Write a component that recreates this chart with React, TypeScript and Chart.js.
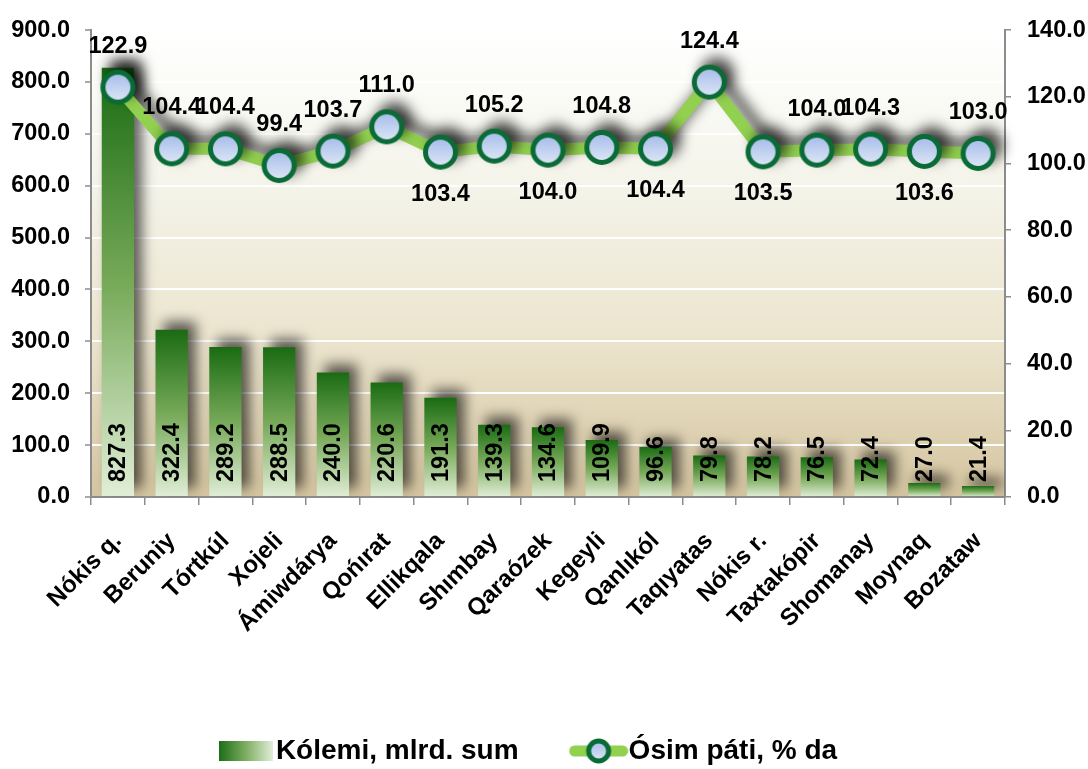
import React, { useEffect, useRef } from 'react';
import { Chart, registerables } from 'chart.js';

Chart.register(...registerables);

const categories = ['Nókis q.', 'Beruniy', 'Tórtkúl', 'Xojeli', 'Ámiwdárya', 'Qońırat', 'Ellikqala', 'Shımbay', 'Qaraózek', 'Kegeyli', 'Qanlıkól', 'Taqıyatas', 'Nókis r.', 'Taxtakópir', 'Shomanay', 'Moynaq', 'Bozataw'];
const volume = [827.3, 322.4, 289.2, 288.5, 240.0, 220.6, 191.3, 139.3, 134.6, 109.9, 96.6, 79.8, 78.2, 76.5, 72.4, 27.0, 21.4];
const growth = [122.9, 104.4, 104.4, 99.4, 103.7, 111.0, 103.4, 105.2, 104.0, 104.8, 104.4, 124.4, 103.5, 104.0, 104.3, 103.6, 103.0];
const leftTicksMax = 900;
const leftTicksStep = 100;
const rightTicksMax = 140;
const rightTicksStep = 20;
const volumeLabel = 'Kólemi, mlrd. sum';
const growthLabel = 'Ósim páti, % da';
// indices of growth labels drawn below their points (style, not data)
const growthLabelsBelow = [6, 8, 10, 12, 15];

const FONT = "'Liberation Sans', Arial, Helvetica, sans-serif";
const NUM_SIZE = 23.5;

function makePointImage(r: number, border: number) {
  const size = Math.ceil(2 * r + 2);
  const c = document.createElement('canvas');
  c.width = size;
  c.height = size;
  const g = c.getContext('2d')!;
  const cx = size / 2;
  const grad = g.createLinearGradient(0, cx - r, 0, cx + r);
  grad.addColorStop(0, '#9fb8e8');
  grad.addColorStop(1, '#e4ebf8');
  g.beginPath();
  g.arc(cx, cx, r - border / 2, 0, Math.PI * 2);
  g.fillStyle = grad;
  g.fill();
  g.lineWidth = border;
  g.strokeStyle = '#0a6b37';
  g.stroke();
  return c;
}

function makeBarLegendImage() {
  const c = document.createElement('canvas');
  c.width = 54;
  c.height = 20;
  const g = c.getContext('2d')!;
  const grad = g.createLinearGradient(0, 0, 54, 0);
  grad.addColorStop(0, '#1c6d17');
  grad.addColorStop(0.5, '#7eae62');
  grad.addColorStop(1, '#e2eed8');
  g.fillStyle = grad;
  g.fillRect(0, 0, 54, 20);
  return c;
}

function makeLineLegendImage() {
  const c = document.createElement('canvas');
  c.width = 60;
  c.height = 28;
  const g = c.getContext('2d')!;
  g.strokeStyle = '#92d050';
  g.lineWidth = 11;
  g.lineCap = 'round';
  g.beginPath();
  g.moveTo(6, 14);
  g.lineTo(54, 14);
  g.stroke();
  const r = 12.5;
  const grad = g.createLinearGradient(0, 14 - r, 0, 14 + r);
  grad.addColorStop(0, '#9fb8e8');
  grad.addColorStop(1, '#e4ebf8');
  g.beginPath();
  g.arc(30, 14, r - 2.5, 0, Math.PI * 2);
  g.fillStyle = grad;
  g.fill();
  g.lineWidth = 5;
  g.strokeStyle = '#0a6b37';
  g.stroke();
  return c;
}

const backgroundPlugin = {
  id: 'plotBackground',
  beforeDraw(chart: any) {
    const { ctx, chartArea } = chart;
    if (chart.legend) {
      chart.legend.left = 0;
      chart.legend.right = chart.width - 21;
    }
    if (!chartArea) return;
    const grad = ctx.createLinearGradient(0, chartArea.top, 0, chartArea.bottom);
    grad.addColorStop(0, '#ffffff');
    grad.addColorStop(0.3, '#f5f5ec');
    grad.addColorStop(0.65, '#ece5cf');
    grad.addColorStop(1, '#d5c5a0');
    ctx.save();
    ctx.fillStyle = grad;
    ctx.fillRect(chartArea.left, chartArea.top, chartArea.right - chartArea.left, chartArea.bottom - chartArea.top);
    ctx.restore();
  },
};

const shadowPlugin = {
  id: 'markShadow',
  beforeDatasetDraw(chart: any) {
    const c = chart.ctx;
    c.save();
    c.shadowColor = 'rgba(0,0,0,0.62)';
    c.shadowBlur = 13;
    c.shadowOffsetX = 8;
    c.shadowOffsetY = -8;
  },
  afterDatasetDraw(chart: any) {
    chart.ctx.restore();
  },
};

const labelPlugin = {
  id: 'valueLabels',
  afterDatasetsDraw(chart: any) {
    const { ctx } = chart;
    ctx.save();
    ctx.fillStyle = '#000';
    ctx.font = `bold ${NUM_SIZE}px ${FONT}`;
    const barMeta = chart.getDatasetMeta(0);
    const base = chart.scales.y.getPixelForValue(0);
    barMeta.data.forEach((el: any, i: number) => {
      ctx.save();
      ctx.translate(el.x, base - 15);
      ctx.rotate(-Math.PI / 2);
      ctx.textAlign = 'left';
      ctx.textBaseline = 'middle';
      ctx.fillText(volume[i].toFixed(1), 0, 1);
      ctx.restore();
    });
    const lineMeta = chart.getDatasetMeta(1);
    ctx.textAlign = 'center';
    ctx.textBaseline = 'middle';
    lineMeta.data.forEach((el: any, i: number) => {
      const below = growthLabelsBelow.includes(i);
      ctx.fillText(growth[i].toFixed(1), el.x, below ? el.y + 42 : el.y - 41);
    });
    ctx.restore();
  },
};

export default function App() {
  const ref = useRef<HTMLCanvasElement>(null);
  useEffect(() => {
    if (!ref.current) return;
    const pointImg = makePointImage(17.5, 5);
    const barLegend = makeBarLegendImage();
    const lineLegend = makeLineLegendImage();
    const barGradient = (c: any) => {
      const chart = c.chart;
      if (!chart.chartArea || c.type !== 'data') return '#5a9a40';
      const ys = chart.scales.y;
      const top = ys.getPixelForValue(c.raw);
      const bottom = ys.getPixelForValue(0);
      const g = chart.ctx.createLinearGradient(0, top, 0, bottom);
      g.addColorStop(0, '#1a6b13');
      g.addColorStop(0.5, '#76a958');
      g.addColorStop(1, '#e1eed7');
      return g;
    };
    const chart = new Chart(ref.current, {
      data: {
        labels: categories,
        datasets: [
          {
            type: 'bar',
            label: volumeLabel,
            data: volume,
            yAxisID: 'y',
            backgroundColor: barGradient,
            barPercentage: 0.6,
            categoryPercentage: 1,
            order: 1,
          } as any,
          {
            type: 'line',
            label: growthLabel,
            data: growth,
            yAxisID: 'y1',
            borderColor: '#92d050',
            borderWidth: 12,
            borderJoinStyle: 'round',
            borderCapStyle: 'round',
            pointStyle: pointImg,
            pointRadius: 17,
            tension: 0,
            order: 0,
          } as any,
        ],
      },
      options: {
        responsive: false,
        animation: false,
        events: [],
        layout: { padding: { top: 27, left: 0, right: 0, bottom: -6 } },
        font: { family: FONT, weight: 'bold' },
        plugins: {
          tooltip: { enabled: false },
          legend: {
            position: 'bottom',
            labels: {
              usePointStyle: true,
              pointStyleWidth: 32,
              padding: 64,
              color: '#000',
              font: { family: FONT, size: 28, weight: 'bold' },
              generateLabels: () => [
                { text: volumeLabel, pointStyle: barLegend, datasetIndex: 0, hidden: false, lineWidth: 0, fillStyle: 'rgba(0,0,0,0)', strokeStyle: 'rgba(0,0,0,0)' } as any,
                { text: growthLabel, pointStyle: lineLegend, datasetIndex: 1, hidden: false, lineWidth: 0, fillStyle: 'rgba(0,0,0,0)', strokeStyle: 'rgba(0,0,0,0)' } as any,
              ],
            },
          },
        },
        scales: {
          x: {
            offset: true,
            grid: { display: true, drawOnChartArea: false, offset: true, color: '#8c8c8c', tickLength: 8, lineWidth: 1.5 },
            border: { display: true, color: '#8c8c8c', width: 2 },
            ticks: {
              maxRotation: 45,
              minRotation: 45,
              autoSkip: false,
              padding: 22,
              color: '#000',
              font: { family: FONT, size: 24, weight: 'bold' },
            },
            afterFit: (scale: any) => {
              const ch = scale.chart;
              const lh = ch.legend ? ch.legend.height : 0;
              scale.height = ch.height + 6 - lh - 497;
            },
          } as any,
          y: {
            position: 'left',
            min: 0,
            max: leftTicksMax,
            ticks: {
              stepSize: leftTicksStep,
              padding: 15,
              color: '#000',
              font: { family: FONT, size: NUM_SIZE, weight: 'bold' },
              callback: (v: any) => Number(v).toFixed(1),
            },
            grid: {
              color: (c: any) => (c.tick && c.tick.value === 0 ? 'rgba(0,0,0,0)' : '#ffffff'),
              lineWidth: 2,
              tickColor: '#8c8c8c',
              tickLength: 6,
              tickWidth: 1.5,
            },
            border: { display: true, color: '#8c8c8c', width: 2 },
            afterFit: (scale: any) => {
              scale.width = 91;
            },
          } as any,
          y1: {
            position: 'right',
            min: 0,
            max: rightTicksMax,
            ticks: {
              stepSize: rightTicksStep,
              padding: 16,
              color: '#000',
              font: { family: FONT, size: NUM_SIZE, weight: 'bold' },
              callback: (v: any) => Number(v).toFixed(1),
            },
            grid: { drawOnChartArea: false, color: '#8c8c8c', tickLength: 6, lineWidth: 1.5 },
            border: { display: true, color: '#8c8c8c', width: 2 },
            afterFit: (scale: any) => {
              scale.width = 83;
            },
          } as any,
        },
      } as any,
      plugins: [backgroundPlugin, shadowPlugin, labelPlugin],
    });
    return () => chart.destroy();
  }, []);
  return (
    <div style={{ position: 'fixed', left: 0, top: 0, width: 1088, height: 769, background: '#fff' }}>
      <canvas ref={ref} width={1088} height={769} style={{ display: 'block', width: 1088, height: 769 }} />
    </div>
  );
}
